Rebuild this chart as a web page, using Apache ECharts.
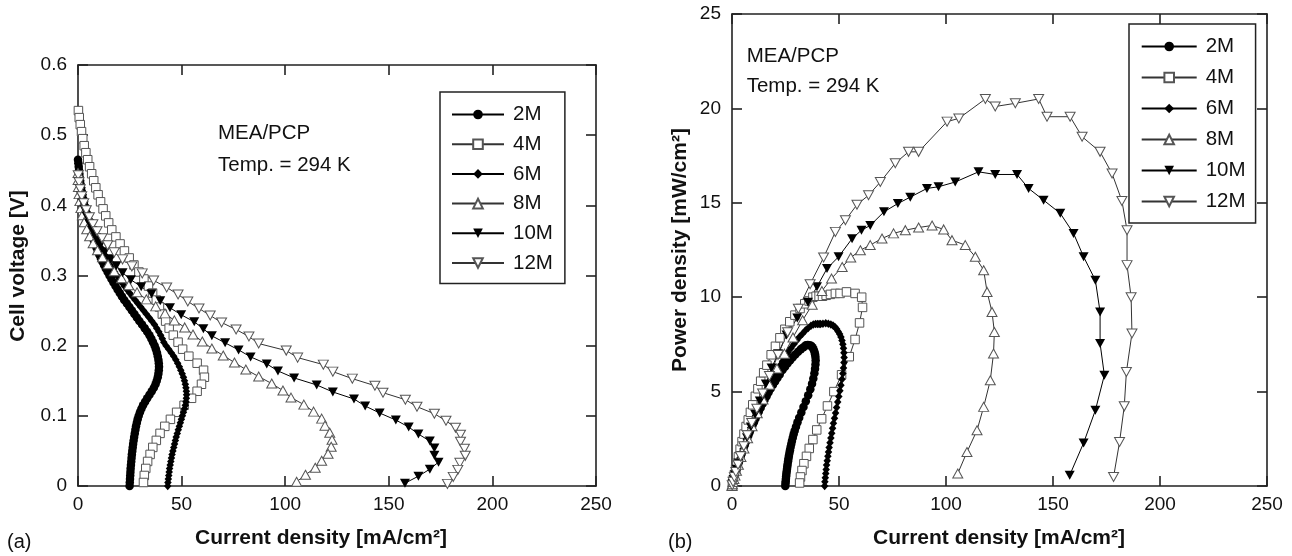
<!DOCTYPE html>
<html><head><meta charset="utf-8">
<script src="https://cdn.jsdelivr.net/npm/echarts@6/dist/echarts.min.js"></script>
<style>html,body{margin:0;padding:0;background:#fff}#c{width:1292px;height:556px}</style>
</head><body><div id="c"></div>
<script>
// ---------- data ----------
const seriesNames = ['2M','4M','6M','8M','10M','12M'];
const xRange = [0, 250, 50];          // current density axis (both panels)
const yRangeA = [0, 0.6, 0.1];        // cell voltage axis
const yRangeB = [0, 25, 5];           // power density axis

// 2M : current [mA/cm2], voltage [V], power [mW/cm2]
const cur2M = [0,0.2,0.35,0.5,0.65,0.8,1.0,1.2,1.45,1.7,1.95,2.25,2.55,2.9,3.25,3.65,4.05,4.5,4.95,5.45,5.95,6.5,7.05,7.65,8.25,8.9,9.55,10.25,11.0,11.75,12.55,13.4,14.3,15.2,16.15,17.1,18.1,19.1,20.15,21.2,22.3,23.6,24.8,26.0,27.2,28.4,29.6,30.9,32.2,33.4,34.5,35.4,36.2,37.0,37.6,38.1,38.5,38.8,39.0,39.1,39.0,38.8,38.5,38.0,37.4,36.6,35.6,34.5,33.4,32.4,31.4,30.6,29.9,29.3,28.8,28.4,28.0,27.7,27.4,27.1,26.85,26.6,26.4,26.2,26.0,25.85,25.7,25.55,25.4,25.3,25.2,25.1,25.0,24.9];
const volt2M = [0.465,0.46,0.455,0.45,0.445,0.44,0.435,0.43,0.425,0.42,0.415,0.41,0.405,0.40,0.395,0.39,0.385,0.38,0.375,0.37,0.365,0.36,0.355,0.35,0.345,0.34,0.335,0.33,0.325,0.32,0.315,0.31,0.305,0.30,0.295,0.29,0.285,0.28,0.275,0.27,0.265,0.26,0.255,0.25,0.245,0.24,0.235,0.23,0.225,0.22,0.215,0.21,0.205,0.20,0.195,0.19,0.185,0.18,0.175,0.17,0.165,0.16,0.155,0.15,0.145,0.14,0.135,0.13,0.125,0.12,0.115,0.11,0.105,0.10,0.095,0.09,0.085,0.08,0.075,0.07,0.065,0.06,0.055,0.05,0.045,0.04,0.035,0.03,0.025,0.02,0.015,0.01,0.005,0];
const pow2M = [0,0.09,0.16,0.23,0.29,0.35,0.44,0.52,0.62,0.71,0.81,0.92,1.03,1.16,1.28,1.42,1.56,1.71,1.86,2.02,2.17,2.34,2.50,2.68,2.85,3.03,3.20,3.38,3.58,3.76,3.95,4.15,4.36,4.56,4.76,4.96,5.16,5.35,5.54,5.72,5.91,6.14,6.32,6.50,6.66,6.82,6.96,7.11,7.25,7.35,7.45,7.47,7.46,7.43,7.35,7.24,7.12,6.98,6.83,6.65,6.44,6.21,5.97,5.70,5.42,5.12,4.81,4.49,4.18,3.89,3.61,3.37,3.14,2.93,2.74,2.56,2.38,2.22,2.06,1.90,1.75,1.60,1.45,1.31,1.17,1.03,0.90,0.77,0.64,0.51,0.38,0.25,0.13,0];

// 4M
const cur4M = [0.2,0.6,1.1,1.7,2.3,3.0,3.8,4.7,5.6,6.6,7.6,8.6,9.7,10.9,12.1,13.4,14.8,16.3,18.3,20.3,22.4,24.7,27.0,29.4,31.8,34.0,36.0,37.8,39.3,40.7,42.3,44.0,46.0,48.3,50.5,53.5,57.5,60.6,61.0,59.6,57.5,54.8,51.2,47.6,44.6,41.9,39.6,37.8,36.1,34.8,33.6,32.7,32.0,31.6];
const volt4M = [0.535,0.525,0.515,0.505,0.495,0.485,0.475,0.465,0.455,0.445,0.435,0.425,0.415,0.405,0.395,0.385,0.375,0.365,0.355,0.345,0.335,0.325,0.315,0.305,0.295,0.285,0.275,0.265,0.255,0.245,0.235,0.225,0.215,0.205,0.195,0.185,0.175,0.165,0.155,0.145,0.135,0.125,0.115,0.105,0.095,0.085,0.075,0.065,0.055,0.045,0.035,0.025,0.015,0.005];
const pow4M = [0.1,0.33,0.6,0.9,1.2,1.55,1.95,2.35,2.75,3.15,3.5,3.9,4.3,4.75,5.15,5.55,6.0,6.4,6.95,7.4,7.85,8.3,8.7,9.05,9.4,9.65,9.8,10.0,10.05,10.05,10.05,10.1,10.15,10.2,10.2,10.28,10.2,10.0,9.46,8.64,7.76,6.85,5.89,5.0,4.24,3.56,2.97,2.46,1.99,1.57,1.18,0.82,0.48,0.16];

// 6M
const cur6M = [0,0.25,0.5,0.75,1.0,1.3,1.6,1.9,2.2,2.55,2.9,3.3,3.7,4.15,4.6,5.1,5.6,6.15,6.7,7.35,8.0,8.7,9.4,10.2,11.0,11.85,12.7,13.65,14.6,15.6,16.6,17.7,18.8,19.95,21.1,22.35,23.6,24.9,26.2,27.55,28.9,30.25,31.6,32.95,34.3,35.6,36.9,38.0,39.0,39.9,40.7,41.4,42.5,43.8,45.0,46.2,47.2,48.1,48.9,49.6,50.3,50.9,51.4,51.8,52.1,52.3,52.4,52.3,52.1,51.8,51.4,50.9,50.4,49.9,49.4,48.9,48.4,47.9,47.4,47.0,46.6,46.2,45.8,45.4,45.1,44.8,44.5,44.2,44.0,43.8,43.6,43.4,43.3];
const volt6M = [0.46,0.455,0.45,0.445,0.44,0.435,0.43,0.425,0.42,0.415,0.41,0.405,0.40,0.395,0.39,0.385,0.38,0.375,0.37,0.365,0.36,0.355,0.35,0.345,0.34,0.335,0.33,0.325,0.32,0.315,0.31,0.305,0.30,0.295,0.29,0.285,0.28,0.275,0.27,0.265,0.26,0.255,0.25,0.245,0.24,0.235,0.23,0.225,0.22,0.215,0.21,0.205,0.20,0.195,0.19,0.185,0.18,0.175,0.17,0.165,0.16,0.155,0.15,0.145,0.14,0.135,0.13,0.125,0.12,0.115,0.11,0.105,0.10,0.095,0.09,0.085,0.08,0.075,0.07,0.065,0.06,0.055,0.05,0.045,0.04,0.035,0.03,0.025,0.02,0.015,0.01,0.005,0];
const pow6M = [0,0.11,0.23,0.33,0.44,0.57,0.69,0.81,0.92,1.06,1.19,1.34,1.48,1.64,1.79,1.96,2.13,2.31,2.48,2.68,2.88,3.09,3.29,3.52,3.74,3.97,4.19,4.44,4.67,4.91,5.15,5.40,5.64,5.89,6.12,6.37,6.61,6.85,7.07,7.30,7.51,7.71,7.90,8.07,8.23,8.37,8.49,8.55,8.58,8.58,8.58,8.58,8.6,8.62,8.6,8.56,8.5,8.42,8.31,8.18,8.05,7.89,7.71,7.51,7.29,7.06,6.81,6.54,6.25,5.96,5.65,5.34,5.04,4.74,4.45,4.16,3.87,3.59,3.32,3.06,2.80,2.54,2.29,2.04,1.80,1.57,1.34,1.11,0.88,0.66,0.44,0.22,0];

// 8M
const cur8M = [0,0.05,0.2,0.5,0.9,1.4,2.1,3.0,4.2,5.6,7.3,9.4,11.8,14.5,17.5,21,24.5,28.5,33,37.5,42,46.5,51.5,55.5,60,64.6,70.1,75.5,81,87.2,93.5,98.9,102.8,109,113.7,117.6,119.2,121.5,122.6,122.2,120.7,117.6,114.5,109.8,105.5];
const volt8M = [0.446,0.436,0.426,0.416,0.406,0.396,0.386,0.376,0.366,0.356,0.346,0.336,0.326,0.316,0.306,0.296,0.286,0.276,0.266,0.256,0.246,0.236,0.226,0.216,0.206,0.196,0.186,0.176,0.166,0.156,0.146,0.136,0.126,0.116,0.106,0.096,0.086,0.076,0.066,0.056,0.046,0.036,0.026,0.016,0.006];
const pow8M = [0,0.02,0.09,0.21,0.37,0.55,0.81,1.13,1.54,1.99,2.53,3.16,3.85,4.58,5.36,6.22,7.01,7.87,8.78,9.6,10.33,10.99,11.6,12.1,12.49,12.76,13.11,13.38,13.55,13.69,13.8,13.59,13.02,12.76,12.14,11.43,10.28,9.22,8.16,7.02,5.6,4.19,2.95,1.8,0.66];

// 10M
const cur10M = [0.3,0.8,1.4,2.2,3.1,4.2,5.5,7.0,8.8,10.8,13.0,15.8,18.5,21.5,25.5,30.5,35.5,39.7,44.4,49.8,56.1,60.5,64.6,71,77.5,83.3,91.1,96.5,104.3,115.2,123,133.2,138.6,145.6,153.4,159.6,164.3,169.8,172,172,174,169.8,164.3,157.8];
const volt10M = [0.434,0.424,0.414,0.404,0.394,0.384,0.374,0.364,0.354,0.344,0.334,0.324,0.314,0.304,0.294,0.284,0.274,0.264,0.254,0.244,0.234,0.224,0.214,0.204,0.194,0.184,0.174,0.164,0.154,0.144,0.134,0.124,0.114,0.104,0.094,0.084,0.074,0.064,0.054,0.044,0.034,0.024,0.014,0.004];
const pow10M = [0.13,0.34,0.58,0.89,1.22,1.61,2.06,2.55,3.12,3.8,4.5,5.4,6.25,7.0,8.0,8.9,9.73,10.55,11.52,12.14,13.1,13.55,13.8,14.52,14.96,15.3,15.76,15.85,16.1,16.64,16.5,16.5,15.76,15.14,14.44,13.38,12.14,10.9,9.22,7.55,5.87,4.01,2.28,0.57];

// 12M
const cur12M = [0.1,0.5,1.1,1.8,2.8,4.0,5.5,7.2,9.2,11.6,14.3,17.5,21.5,26,31,36.5,42.8,48.3,53,58.4,63.8,69.3,76.3,82.5,87.2,100.5,106,118.4,123,132.4,143.3,147.2,158,163.6,172,177.6,182.2,184.6,184.6,186.5,186.9,184.3,183.3,181.1,178.3];
const volt12M = [0.443,0.433,0.423,0.413,0.403,0.393,0.383,0.373,0.363,0.353,0.343,0.333,0.323,0.313,0.303,0.293,0.283,0.273,0.263,0.253,0.243,0.233,0.223,0.213,0.203,0.193,0.183,0.173,0.163,0.153,0.143,0.133,0.123,0.113,0.103,0.093,0.083,0.073,0.063,0.053,0.043,0.033,0.023,0.013,0.003];
const pow12M = [0.04,0.22,0.47,0.74,1.13,1.57,2.11,2.69,3.34,4.09,4.9,5.83,6.94,8.14,9.39,10.69,12.1,13.46,14.08,14.9,15.4,16.1,17.1,17.7,17.7,19.3,19.47,20.5,20.1,20.27,20.5,19.56,19.56,18.5,17.7,16.55,15.1,13.55,11.7,10.0,8.08,6.04,4.22,2.33,0.48];

// ---------- chart ----------
const FONT = '"Liberation Sans", Arial, Helvetica, sans-serif';
const curs = [cur2M, cur4M, cur6M, cur8M, cur10M, cur12M];
const volts = [volt2M, volt4M, volt6M, volt8M, volt10M, volt12M];
const pows = [pow2M, pow4M, pow6M, pow8M, pow10M, pow12M];
const DOWN = 'path://M0,0L10,0L5,8.7Z';
const styles = [
  {symbol:'circle', size:8.5, open:false},
  {symbol:'rect', size:8.5, open:true},
  {symbol:'diamond', size:[7.5,8.5], open:false},
  {symbol:'triangle', size:[10,9], open:true},
  {symbol:DOWN, size:[10,9], open:false},
  {symbol:DOWN, size:[10,9], open:true}
];

function mkSeries(xi, yi, ys) {
  return seriesNames.map((name, k) => {
    const st = styles[k];
    const data = curs[k].map((c, j) => [c, ys[k][j]]);
    return {
      name, type:'line', xAxisIndex:xi, yAxisIndex:yi, data,
      symbol: st.symbol, symbolSize: st.size, showAllSymbol:true,
      lineStyle:{color: st.open ? '#333' : '#000', width:1},
      itemStyle: st.open ? {color:'#fff', borderColor:'#555', borderWidth:1}
                         : {color:'#000', borderWidth:0},
      emphasis:{disabled:true}, animation:false
    };
  });
}

function xAx(grid, pos, labels) {
  return {gridIndex:grid, type:'value', position:pos, min:xRange[0], max:xRange[1], interval:xRange[2],
    axisLine:{onZero:false, lineStyle:{color:'#222', width:1.6}},
    axisTick:{show:true, inside:true, length:10, lineStyle:{color:'#222', width:1.6}},
    axisLabel:{show:labels, margin:9, fontSize:19, color:'#111', fontFamily:FONT},
    splitLine:{show:false}};
}
function yAx(grid, pos, r, labels) {
  return {gridIndex:grid, type:'value', position:pos, min:r[0], max:r[1], interval:r[2],
    axisLine:{onZero:false, lineStyle:{color:'#222', width:1.6}},
    axisTick:{show:true, inside:true, length:10, lineStyle:{color:'#222', width:1.6}},
    axisLabel:{show:labels, margin:11, fontSize:19, color:'#111', fontFamily:FONT},
    splitLine:{show:false}};
}

function txt(text, x, y, opts) {
  return Object.assign({type:'text', x, y, silent:true,
    style:Object.assign({text, fill:'#111', font:'20.5px ' + FONT, textAlign:'left', textVerticalAlign:'middle'}, opts && opts.style || {})},
    opts && opts.el || {});
}

const legendBase = {
  data: seriesNames, orient:'vertical', selectedMode:false,
  backgroundColor:'#fff', borderColor:'#222', borderWidth:1.5,
  itemHeight:12, textStyle:{fontSize:20.5, fontFamily:FONT, color:'#111', lineHeight:20, padding:[0,0,0,4]}
};

const option = {
  animation:false,
  backgroundColor:'#fff',
  grid:[{left:78, top:65, width:518, height:421}, {left:732, top:14, width:535, height:472}],
  xAxis:[xAx(0,'bottom',true), xAx(0,'top',false), xAx(1,'bottom',true), xAx(1,'top',false)],
  yAxis:[yAx(0,'left',yRangeA,true), yAx(0,'right',yRangeA,false), yAx(1,'left',yRangeB,true), yAx(1,'right',yRangeB,false)],
  legend:[
    Object.assign({}, legendBase, {left:440, top:92, padding:[12,12,10,11], itemWidth:52, itemGap:8.7}),
    Object.assign({}, legendBase, {left:1129, top:24, padding:[12,10,11,11.7], itemWidth:55, itemGap:10})
  ],
  series: mkSeries(0,0,volts).concat(mkSeries(2,2,pows)),
  graphic:[
    txt('MEA/PCP', 218, 133),
    txt('Temp. = 294 K', 218, 165),
    txt('MEA/PCP', 746.7, 56.5),
    txt('Temp. = 294 K', 746.7, 86.5),
    txt('(a)', 7, 542, {style:{font:'20px ' + FONT}}),
    txt('(b)', 668, 542, {style:{font:'20px ' + FONT}}),
    txt('Current density [mA/cm²]', 321, 538, {style:{font:'bold 21px ' + FONT, textAlign:'center'}}),
    txt('Current density [mA/cm²]', 999, 538, {style:{font:'bold 21px ' + FONT, textAlign:'center'}}),
    txt('Cell voltage [V]', 18.5, 266, {style:{font:'bold 21px ' + FONT, textAlign:'center'}, el:{rotation:Math.PI/2}}),
    txt('Power density [mW/cm²]', 680, 250, {style:{font:'bold 21px ' + FONT, textAlign:'center'}, el:{rotation:Math.PI/2}})
  ]
};

const chart = echarts.init(document.getElementById('c'), null, {renderer:'canvas'});
chart.setOption(option);
</script>
</body></html>
